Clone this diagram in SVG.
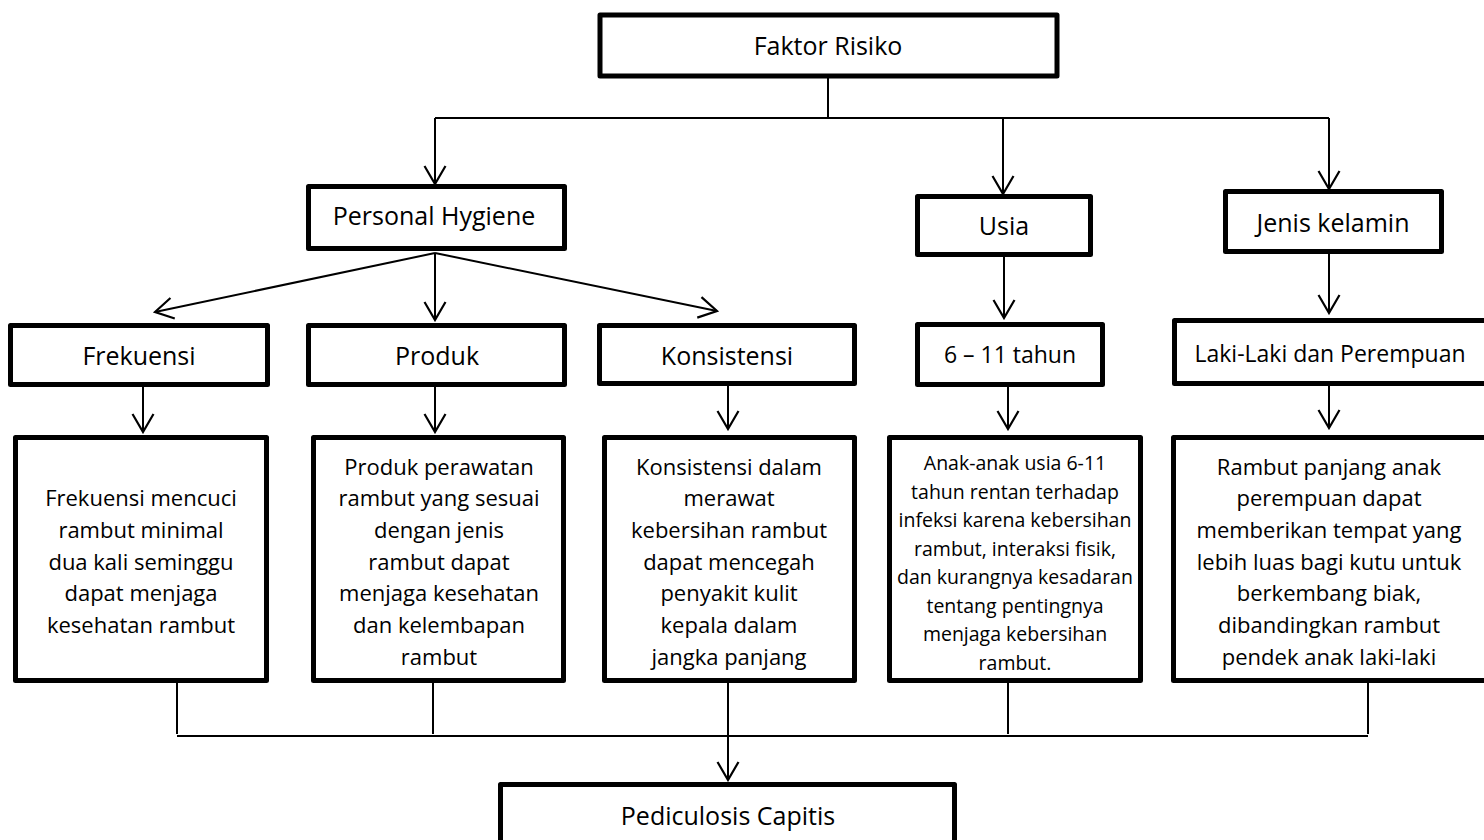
<svg xmlns="http://www.w3.org/2000/svg" width="1484" height="840" viewBox="0 0 1484 840">
<defs>
<marker id="arr" markerUnits="userSpaceOnUse" markerWidth="22" markerHeight="24" viewBox="0 0 22 24" refX="20" refY="12" orient="auto">
<path d="M2,1.5 L20,12 L2,22.5" fill="none" stroke="#000" stroke-width="2.2"/>
</marker>
<style>
.box{fill:#fff;stroke:#000;stroke-width:5;stroke-linejoin:round}
.ln{fill:none;stroke:#000;stroke-width:2}
.ar{fill:none;stroke:#000;stroke-width:2;marker-end:url(#arr)}
text{font-family:"Open Sans","Noto Sans","DejaVu Sans",sans-serif;fill:#000;text-anchor:middle}
.h{font-size:25px}
.m{font-size:23px}
.b{font-size:22px}
.s{font-size:19.5px}
</style>
</defs>
<rect width="1484" height="840" fill="#fff"/>

<g id="connectors">
<path class="ln" d="M828,78 V118 M435,118 H1329"/>
<path class="ar" d="M435,118 V184"/>
<path class="ar" d="M1003,118 V194"/>
<path class="ar" d="M1329,118 V189"/>
<path class="ar" d="M435,253 L155,312"/>
<path class="ar" d="M435,253 V320"/>
<path class="ar" d="M435,253 L717,311"/>
<path class="ar" d="M143,387 V432"/>
<path class="ar" d="M435,387 V432"/>
<path class="ar" d="M728,386 V429"/>
<path class="ar" d="M1004,250 V318"/>
<path class="ar" d="M1008,387 V429"/>
<path class="ar" d="M1329,245 V313"/>
<path class="ar" d="M1329,380 V428"/>
<path class="ln" d="M177,683 V734 M433,683 V734 M1008,683 V734 M1368,683 V734 M177,736 H1368"/>
<path class="ar" d="M728,683 V780"/>
</g>

<g id="faktor-risiko">
<rect class="box" x="600" y="15" width="457" height="61"/>
<text class="h" x="828" y="55">Faktor Risiko</text>
</g>

<g id="personal-hygiene">
<rect class="box" x="308.5" y="186.5" width="256" height="62"/>
<text class="h" x="434" y="225">Personal Hygiene</text>
</g>

<g id="usia">
<rect class="box" x="917.5" y="196.5" width="173" height="58"/>
<text class="h" x="1004" y="235">Usia</text>
</g>

<g id="jenis-kelamin">
<rect class="box" x="1225.5" y="191.5" width="216" height="60"/>
<text class="h" x="1333" y="232">Jenis kelamin</text>
</g>

<g id="frekuensi">
<rect class="box" x="10.5" y="325.5" width="257" height="59"/>
<text class="h" x="139" y="365">Frekuensi</text>
</g>

<g id="produk">
<rect class="box" x="308.5" y="325.5" width="256" height="59"/>
<text class="h" x="437" y="365">Produk</text>
</g>

<g id="konsistensi">
<rect class="box" x="599.5" y="325.5" width="255" height="58"/>
<text class="h" x="727" y="365">Konsistensi</text>
</g>

<g id="usia-6-11">
<rect class="box" x="917.5" y="324.5" width="185" height="60"/>
<text class="m" x="1010" y="363">6 – 11 tahun</text>
</g>

<g id="laki-perempuan">
<rect class="box" x="1174.5" y="320.5" width="320" height="63"/>
<text class="m" x="1330" y="362">Laki-Laki dan Perempuan</text>
</g>

<g id="desc-frekuensi">
<rect class="box" x="15.5" y="437.5" width="251" height="243"/>
<text class="b" x="141" y="506">Frekuensi mencuci</text>
<text class="b" x="141" y="538">rambut minimal</text>
<text class="b" x="141" y="570">dua kali seminggu</text>
<text class="b" x="141" y="601">dapat menjaga</text>
<text class="b" x="141" y="633">kesehatan rambut</text>
</g>

<g id="desc-produk">
<rect class="box" x="313.5" y="437.5" width="250" height="243"/>
<text class="b" x="439" y="475">Produk perawatan</text>
<text class="b" x="439" y="506">rambut yang sesuai</text>
<text class="b" x="439" y="538">dengan jenis</text>
<text class="b" x="439" y="570">rambut dapat</text>
<text class="b" x="439" y="601">menjaga kesehatan</text>
<text class="b" x="439" y="633">dan kelembapan</text>
<text class="b" x="439" y="665">rambut</text>
</g>

<g id="desc-konsistensi">
<rect class="box" x="604.5" y="437.5" width="250" height="243"/>
<text class="b" x="729" y="475">Konsistensi dalam</text>
<text class="b" x="729" y="506">merawat</text>
<text class="b" x="729" y="538">kebersihan rambut</text>
<text class="b" x="729" y="570">dapat mencegah</text>
<text class="b" x="729" y="601">penyakit kulit</text>
<text class="b" x="729" y="633">kepala dalam</text>
<text class="b" x="729" y="665">jangka panjang</text>
</g>

<g id="desc-usia">
<rect class="box" x="889.5" y="437.5" width="251" height="243"/>
<text class="s" x="1015" y="470">Anak-anak usia 6-11</text>
<text class="s" x="1015" y="498.5">tahun rentan terhadap</text>
<text class="s" x="1015" y="527">infeksi karena kebersihan</text>
<text class="s" x="1015" y="555.5">rambut, interaksi fisik,</text>
<text class="s" x="1015" y="584">dan kurangnya kesadaran</text>
<text class="s" x="1015" y="612.5">tentang pentingnya</text>
<text class="s" x="1015" y="641">menjaga kebersihan</text>
<text class="s" x="1015" y="669.5">rambut.</text>
</g>

<g id="desc-jenis-kelamin">
<rect class="box" x="1173.5" y="437.5" width="320" height="243"/>
<text class="b" x="1329" y="475">Rambut panjang anak</text>
<text class="b" x="1329" y="506">perempuan dapat</text>
<text class="b" x="1329" y="538">memberikan tempat yang</text>
<text class="b" x="1329" y="570">lebih luas bagi kutu untuk</text>
<text class="b" x="1329" y="601">berkembang biak,</text>
<text class="b" x="1329" y="633">dibandingkan rambut</text>
<text class="b" x="1329" y="665">pendek anak laki-laki</text>
</g>

<g id="pediculosis-capitis">
<rect class="box" x="500.5" y="784.5" width="454" height="80"/>
<text class="h" x="728" y="825">Pediculosis Capitis</text>
</g>
</svg>
